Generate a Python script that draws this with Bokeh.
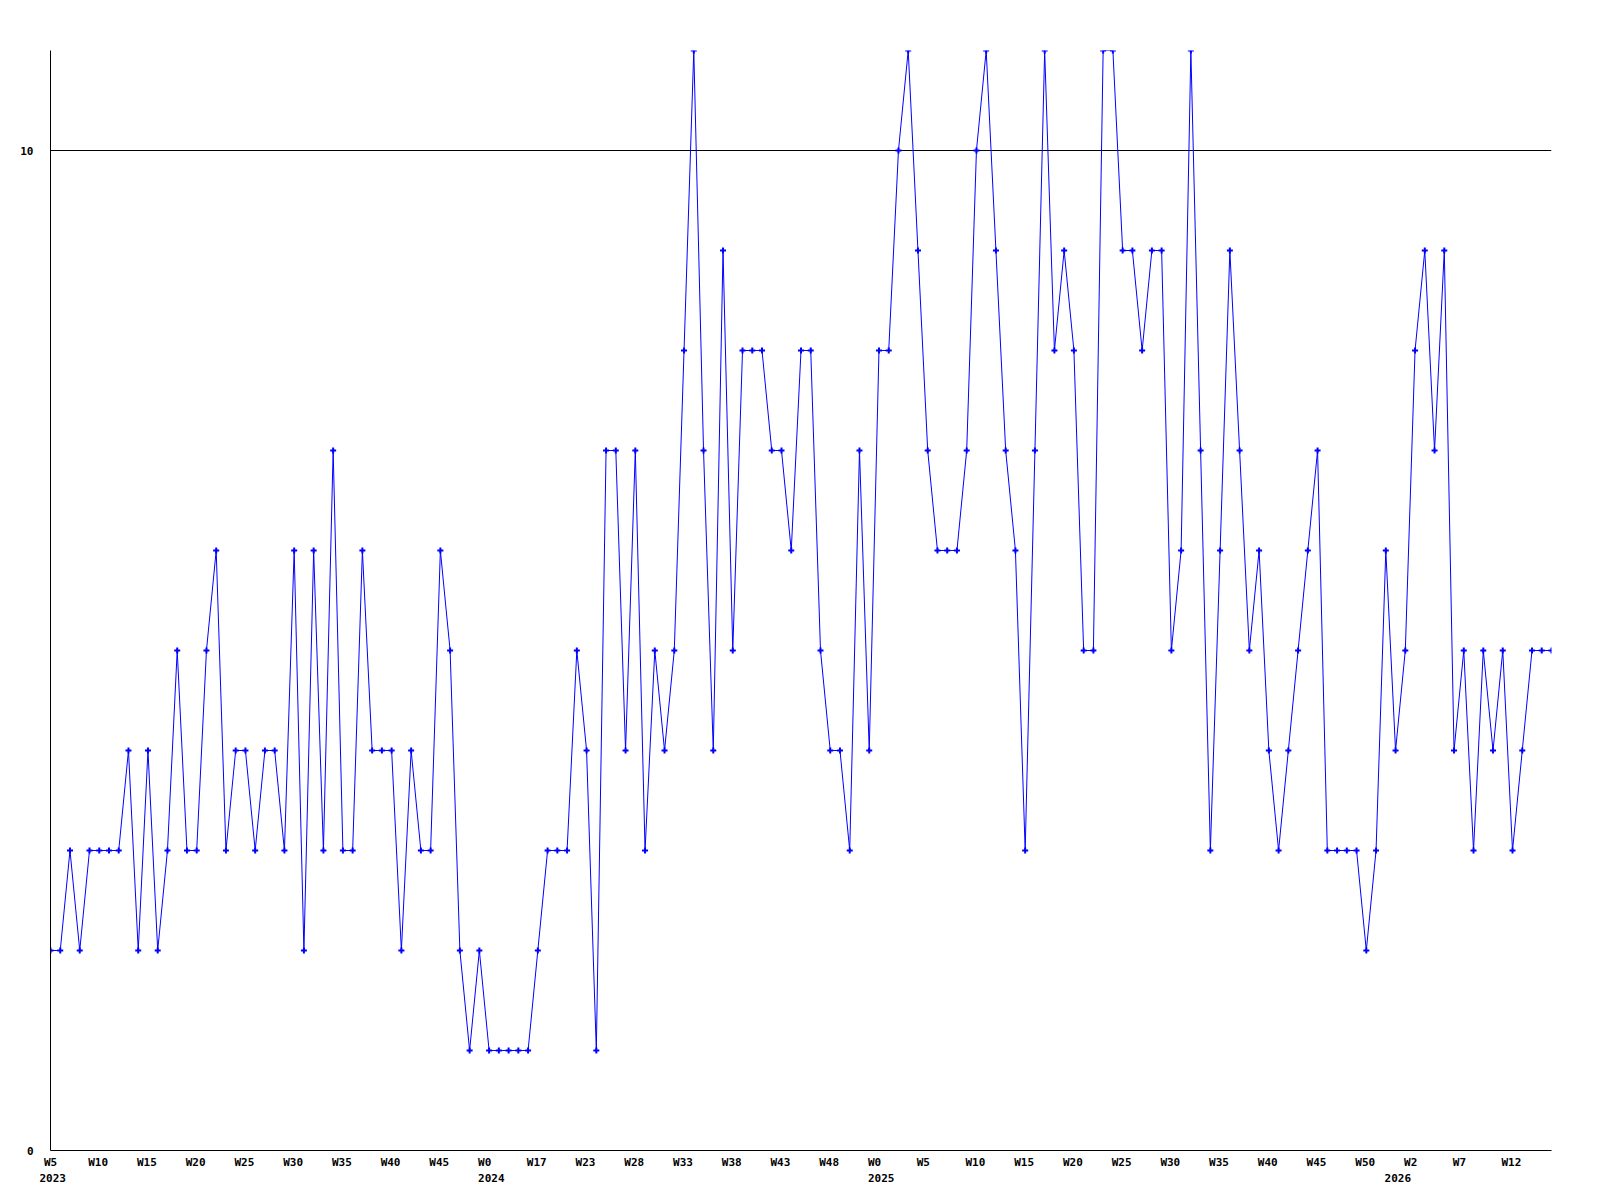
from bokeh.plotting import figure
from bokeh.models import Range1d, FixedTicker, LinearAxis
from bokeh.embed import file_html
from bokeh.resources import INLINE

# weekly counts, one per point (2023 W5 ... 2026)
values = [
    2, 2, 3, 2, 3, 3, 3, 3, 4, 2, 4, 2, 3, 5, 3, 3, 5, 6, 3, 4, 4, 3, 4, 4, 3, 6, 2,
    6, 3, 7, 3, 3, 6, 4, 4, 4, 2, 4, 3, 3, 6, 5, 2, 1, 2, 1, 1, 1, 1, 1, 2, 3, 3,
    3, 5, 4, 1, 7, 7, 4, 7, 3, 5, 4, 5, 8, 11, 7, 4, 9, 5, 8, 8, 8, 7, 7, 6, 8, 8, 5,
    4, 4, 3, 7, 4, 8, 8, 10, 11, 9, 7, 6, 6, 6, 7, 10, 11, 9, 7, 6, 3, 7, 11, 8, 9, 8,
    5, 5, 11, 11, 9, 9, 8, 9, 9, 5, 6, 11, 7, 3, 6, 9, 7, 5, 6, 4, 3, 4, 5, 6, 7, 3,
    3, 3, 3, 2, 3, 6, 4, 5, 8, 9, 7, 9, 4, 5, 3, 5, 4, 5, 3, 4, 5, 5, 5,
]

tick_index = [0, 5, 10, 15, 20, 25, 30, 35, 40, 45, 50, 55, 60, 65, 70, 75, 80,
              85, 90, 95, 100, 105, 110, 115, 120, 125, 130, 135, 140, 145, 150]
tick_labels = ["W5", "W10", "W15", "W20", "W25", "W30", "W35", "W40", "W45",
               "W0", "W17", "W23", "W28", "W33", "W38", "W43", "W48",
               "W0", "W5", "W10", "W15", "W20", "W25", "W30", "W35", "W40",
               "W45", "W50", "W2", "W7", "W12"]
year_index = [0, 45, 85, 138]
year_labels = ["2023", "2024", "2025", "2026"]
y_ticks = [0, 10]
y_labels = ["0", "10"]

x = list(range(len(values)))

FONT = "DejaVu Sans Mono"
FSIZE = 11
CHAR_W = 0.602 * FSIZE          # monospace advance
LEFT, RIGHT, TOP, BOTTOM = 50, 1551, 50, 1150
W, H = 1590, 1190
PX_PER_UNIT = (RIGHT - LEFT) / (len(values) - 1)
LABEL_SHIFT = -11               # labels start this many px left of the point


def left_aligned(pos, text):
    # centre position (data units) that puts the label's left edge at pos + shift
    c = pos + (len(text) * CHAR_W / 2 + LABEL_SHIFT) / PX_PER_UNIT
    return round(max(c, 0.0), 4)


p = figure(width=W, height=H, output_backend="svg", toolbar_location=None,
           x_range=Range1d(0, len(values) - 1), y_range=Range1d(0, 11),
           min_border_left=LEFT, min_border_right=W - RIGHT, min_border_top=TOP,
           min_border_bottom=H - BOTTOM)
p.outline_line_color = None
p.background_fill_color = "white"
p.border_fill_color = "white"


def style(ax):
    ax.axis_line_color = "black"
    ax.axis_line_width = 1
    ax.major_tick_line_color = None
    ax.minor_tick_line_color = None
    ax.major_tick_out = 0
    ax.major_tick_in = 0
    ax.minor_tick_out = 0
    ax.minor_tick_in = 0
    ax.major_label_text_font = FONT
    ax.major_label_text_font_style = "bold"
    ax.major_label_text_font_size = f"{FSIZE}px"
    ax.major_label_text_color = "black"


# week labels
xpos = [left_aligned(i, t) for i, t in zip(tick_index, tick_labels)]
xa = p.xaxis[0]
style(xa)
xa.ticker = FixedTicker(ticks=xpos)
xa.major_label_overrides = {k: t for k, t in zip(xpos, tick_labels)}
xa.major_label_standoff = 5

# year labels on a second axis below
ypos = [left_aligned(i, t) for i, t in zip(year_index, year_labels)]
ya2 = LinearAxis(ticker=FixedTicker(ticks=ypos),
                 major_label_overrides={k: t for k, t in zip(ypos, year_labels)})
style(ya2)
ya2.axis_line_color = None
ya2.major_label_standoff = 2
p.add_layout(ya2, "below")

# y axis
yax = p.yaxis[0]
style(yax)
yax.ticker = FixedTicker(ticks=y_ticks)
yax.major_label_overrides = {k: t for k, t in zip(y_ticks, y_labels)}
yax.major_label_standoff = 17

p.xgrid.visible = False
p.ygrid.ticker = FixedTicker(ticks=[10])
p.ygrid.grid_line_color = "black"
p.ygrid.grid_line_width = 1
p.ygrid.grid_line_alpha = 1.0

p.line(x, values, line_color="#0000ff", line_width=1)
p.scatter(x, values, marker="cross", size=6, line_color="#0000ff", line_width=2)

open("out.html", "w").write(file_html(p, INLINE))
